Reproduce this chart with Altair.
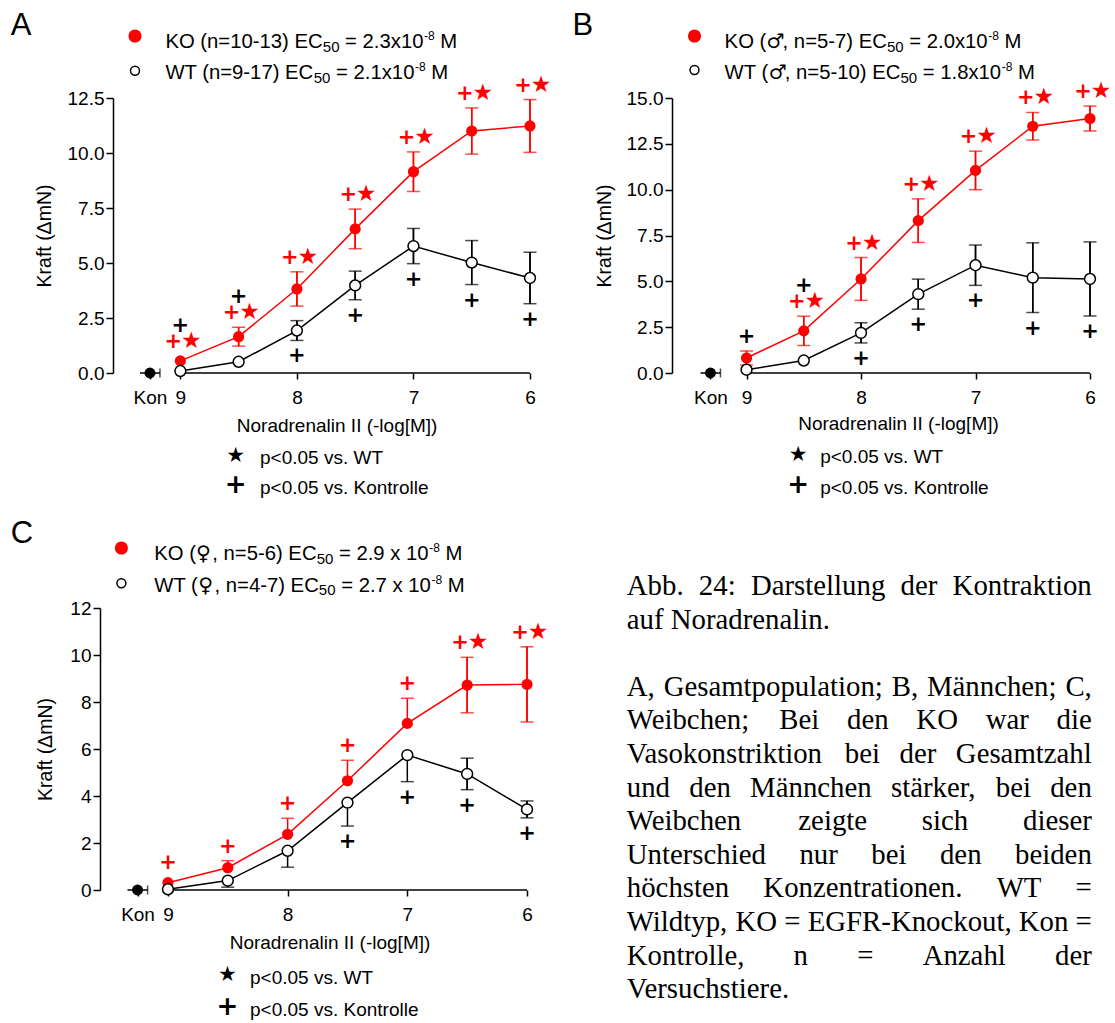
import altair as alt
import pandas as pd

# ---------------- data ----------------
CONC = [9, 8.5, 8, 7.5, 7, 6.5, 6]          # -log[M]
X_TICKS = [9, 8, 7, 6]
KON_Y = 0.0

# Panel A - Gesamtpopulation
A_KO = [0.55, 1.65, 3.82, 6.55, 9.15, 11.00, 11.23]
A_KO_SEM = [0.22, 0.43, 0.78, 0.90, 0.90, 1.05, 1.20]
A_WT = [0.09, 0.51, 1.93, 3.98, 5.77, 5.02, 4.32]
A_WT_SEM = [0.10, 0.12, 0.45, 0.65, 0.80, 1.00, 1.17]
A_KO_BARS = ["both"] * 7
A_WT_BARS = ["both"] * 7
A_KO_MARK = ["+★"] * 7
A_WT_MARK_TOP = ["+", "+", "", "", "", "", ""]
A_WT_MARK_BOT = ["", "", "+", "+", "+", "+", "+"]
A_LEGEND = ["KO (n=10-13) EC₅₀ = 2.3x10⁻⁸ M", "WT (n=9-17) EC₅₀ = 2.1x10⁻⁸ M"]

# Panel B - Maennchen
B_KO = [0.82, 2.30, 5.13, 8.31, 11.05, 13.46, 13.88]
B_KO_SEM = [0.38, 0.80, 1.17, 1.19, 1.05, 0.75, 0.68]
B_WT = [0.18, 0.68, 2.19, 4.30, 5.88, 5.20, 5.13]
B_WT_SEM = [0.10, 0.12, 0.55, 0.82, 1.10, 1.90, 2.02]
B_KO_BARS = ["both"] * 7
B_WT_BARS = ["both"] * 7
B_KO_MARK = ["", "+★", "+★", "+★", "+★", "+★", "+★"]
B_WT_MARK_TOP = ["+", "+", "", "", "", "", ""]
B_WT_MARK_BOT = ["", "", "+", "+", "+", "+", "+"]
B_LEGEND = ["KO (♂, n=5-7) EC₅₀ = 2.0x10⁻⁸ M", "WT (♂, n=5-10) EC₅₀ = 1.8x10⁻⁸ M"]

# Panel C - Weibchen
C_KO = [0.31, 0.95, 2.37, 4.65, 7.09, 8.72, 8.75]
C_KO_SEM = [0.25, 0.30, 0.68, 0.87, 1.07, 1.18, 1.60]
C_WT = [0.03, 0.40, 1.67, 3.72, 5.74, 4.94, 3.43]
C_WT_SEM = [0.10, 0.28, 0.70, 1.00, 1.13, 0.67, 0.36]
C_KO_BARS = ["up"] * 5 + ["both", "both"]
C_WT_BARS = ["down"] * 5 + ["both", "both"]
C_KO_MARK = ["+", "+", "+", "+", "+", "+★", "+★"]
C_WT_MARK_TOP = [""] * 7
C_WT_MARK_BOT = ["", "", "", "+", "+", "+", "+"]
C_LEGEND = ["KO (♀, n=5-6) EC₅₀ = 2.9 x 10⁻⁸ M", "WT (♀, n=4-7) EC₅₀ = 2.7 x 10⁻⁸ M"]

FOOTNOTES = ["p<0.05 vs. WT", "p<0.05 vs. Kontrolle"]
X_TITLE = "Noradrenalin II (-log[M])"
Y_TITLE = "Kraft (ΔmN)"
KON_LABEL = "Kon"

CAPTION = [
    ("Abb. 24: Darstellung der Kontraktion", True),
    ("auf Noradrenalin.", False),
    ("", False),
    ("A, Gesamtpopulation; B, Männchen; C,", True),
    ("Weibchen; Bei den KO war die", True),
    ("Vasokonstriktion bei der Gesamtzahl", True),
    ("und den Männchen stärker, bei den", True),
    ("Weibchen zeigte sich dieser", True),
    ("Unterschied nur bei den beiden", True),
    ("höchsten Konzentrationen. WT =", True),
    ("Wildtyp, KO = EGFR-Knockout, Kon =", True),
    ("Kontrolle, n = Anzahl der", True),
    ("Versuchstiere.", False),
]

# ---------------- style ----------------
RED = "#ff0000"
BLACK = "#000000"
SANS = "Liberation Sans"
SERIF = "Liberation Serif"
SYM = "DejaVu Sans"
FS = 19          # axis labels / titles / footnotes
LEG_FS = 20.3    # legend text

G_A = dict(w=417, h=275, ymax=12.5, ystep=2.5, fmt=".1f", xleft=9.578, kon=9.261, whisk=0.086,
           yoff=0, xtitle=(223.6, 52), ytitle_x=-68.4, letter=(-102.3, -63), letter_txt="A",
           dots=[(22, -62), (22, -27.3)], legx=52.4, legy=[-49.7, -19],
           fsym_x=122.7, fsym_y=[358, 387], ftxt_x=147, ftxt_y=[360.3, 390.3], anchor=True)
G_B = dict(w=418, h=275, ymax=15, ystep=2.5, fmt=".1f", xleft=9.651, kon=9.315, whisk=0.087,
           yoff=0, xtitle=(226, 50), ytitle_x=-67.8, letter=(-99.6, -63), letter_txt="B",
           dots=[(22.5, -62), (22.5, -28)], legx=52.6, legy=[-49.7, -19],
           fsym_x=126.2, fsym_y=[357, 387], ftxt_x=148.2, ftxt_y=[359.3, 390.3], anchor=False)
G_C = dict(w=414, h=282, ymax=12, ystep=2, fmt="d", xleft=9.459, kon=9.254, whisk=0.084,
           yoff=13, xtitle=(216.5, 52.5), ytitle_x=-54.6, letter=(-102.3, -65), letter_txt="C",
           dots=[(8.4, -60), (8.4, -24.7)], legx=41.3, legy=[-48, -16.3],
           fsym_x=114.5, fsym_y=[367, 399], ftxt_x=137, ftxt_y=[370.3, 402], anchor=False)

NO_VIEW = alt.ViewBackground(stroke="transparent", strokeWidth=0)

# Arial / Liberation Sans advance widths (1/1000 em)
AW = {' ': 278, '(': 333, ')': 333, ',': 278, '-': 333, '.': 278, '=': 584, '<': 584,
      'x': 500, 'K': 667, 'O': 778, 'E': 667, 'C': 722, 'M': 833, 'W': 944, 'T': 611,
      'n': 556, 'p': 556, 'v': 500, 's': 500}
SUBS = {'₀': '0', '₁': '1', '₂': '2', '₃': '3', '₄': '4', '₅': '5', '₆': '6', '₇': '7', '₈': '8', '₉': '9'}
SUPS = {'⁻': '-', '⁰': '0', '¹': '1', '²': '2', '³': '3', '⁴': '4', '⁵': '5', '⁶': '6', '⁷': '7', '⁸': '8', '⁹': '9'}
SYMS = {'♂', '♀'}


def aw(s, size):
    return sum(AW.get(ch, 556) for ch in s) / 1000.0 * size


def txt(s, x, y, size, color=BLACK, font=SANS, weight="normal", align="left", baseline="middle"):
    return alt.Chart(pd.DataFrame({"t": [s]})).mark_text(
        align=align, baseline=baseline, font=font, fontSize=size, fontWeight=weight, color=color
    ).encode(x=alt.value(x), y=alt.value(y), text="t:N")


def rich(s, x, y):
    """legend line with real sub/superscripts; y is the baseline"""
    pieces = []
    for ch in s:
        if ch in SUBS:
            kind, c = "sub", SUBS[ch]
        elif ch in SUPS:
            kind, c = "sup", SUPS[ch]
        elif ch in SYMS:
            kind, c = "sym", ch
        else:
            kind, c = "n", ch
        if pieces and pieces[-1][0] == kind and kind != "sym":
            pieces[-1][1] += c
        else:
            pieces.append([kind, c])
    out = []
    cx = x
    for kind, c in pieces:
        if kind == "n":
            lead = len(c) - len(c.lstrip(" "))
            cx += aw(" " * lead, LEG_FS)
            body = c.lstrip(" ")
            out.append(txt(body, cx, y, LEG_FS, baseline="alphabetic"))
            cx += aw(body, LEG_FS)
        elif kind == "sub":
            out.append(txt(c, cx, y + 3.5, 15, baseline="alphabetic"))
            cx += aw(c, 15)
        elif kind == "sup":
            out.append(txt(c, cx + 0.5, y - 8, 12, baseline="alphabetic"))
            cx += aw(c, 12) + 0.5
        else:
            out.append(txt(c, cx, y, LEG_FS, font=SYM, baseline="alphabetic"))
            cx += 0.8 * LEG_FS
    return out


def sym(x, y, size, fill, stroke):
    return alt.Chart(pd.DataFrame({"a": [0]})).mark_point(
        shape="circle", filled=True, fill=fill, stroke=stroke, strokeWidth=1.5, size=size, opacity=1
    ).encode(x=alt.value(x), y=alt.value(y))


def panel(ko, ko_sem, wt, wt_sem, ko_bars, wt_bars, ko_mark, wt_top, wt_bot, legend, g):
    pxu = g["h"] / g["ymax"]
    rows = []
    caps = []
    for i, c in enumerate(CONC):
        rows.append(dict(c=c, ko=ko[i], wt=wt[i],
                         ko_top=ko[i] + ko_sem[i], wt_bot=wt[i] - wt_sem[i],
                         rplus_pair="+" if ("+" in ko_mark[i] and "★" in ko_mark[i]) else "",
                         rplus_solo="+" if ("+" in ko_mark[i] and "★" not in ko_mark[i]) else "",
                         rstar="★" if "★" in ko_mark[i] else "",
                         blk1=wt_top[i] if ko_mark[i] == "" else "",
                         blk2=wt_top[i] if ko_mark[i] != "" else "",
                         blkb=wt_bot[i]))
        for name, m, s, d in (("KO", ko[i], ko_sem[i], ko_bars[i]), ("WT", wt[i], wt_sem[i], wt_bars[i])):
            if s * pxu < 6:
                continue
            lo = m - s if d in ("both", "down") else m
            hi = m + s if d in ("both", "up") else m
            if d in ("both", "up"):
                caps.append(dict(c=c, s=name, lo=lo, hi=hi, cap=hi))
            if d in ("both", "down"):
                caps.append(dict(c=c, s=name, lo=lo, hi=hi, cap=lo))
    df = pd.DataFrame(rows)
    bars = pd.DataFrame(caps)

    ticks_y = []
    v = 0.0
    while v <= g["ymax"] + 1e-9:
        ticks_y.append(round(v, 2))
        v += g["ystep"]

    xs = alt.Scale(domain=[6, g["xleft"]], reverse=True, nice=False, zero=False)
    ys = alt.Scale(domain=[0, g["ymax"]], nice=False, zero=True)
    xaxis = alt.Axis(values=[g["kon"]] + X_TICKS,
                     labelExpr=f"datum.value > 9.05 ? '{KON_LABEL}' : format(datum.value, 'd')",
                     domain=False, grid=False, ticks=True, tickSize=6, tickWidth=1.5, tickColor=BLACK,
                     labelFont=SANS, labelFontSize=FS, labelColor=BLACK, labelPadding=9,
                     labelFlush=False, labelOverlap=False,
                     title=X_TITLE, titleFont=SANS, titleFontSize=FS, titleFontWeight="normal",
                     titleColor=BLACK, titleX=g["xtitle"][0], titleY=g["xtitle"][1],
                     titleBaseline="middle", titleAlign="center")
    yaxis = alt.Axis(values=ticks_y, format=g["fmt"], domain=True, domainColor=BLACK, domainWidth=1.5,
                     grid=False, tickSize=7, tickWidth=1.5, tickColor=BLACK,
                     labelFont=SANS, labelFontSize=FS, labelColor=BLACK, labelPadding=2,
                     offset=g["yoff"],
                     title=Y_TITLE, titleFont=SANS, titleFontSize=19.5, titleFontWeight="normal",
                     titleColor=BLACK, titleX=g["ytitle_x"], titleBaseline="middle", titleAlign="center")

    def X(f):
        return alt.X(f, type="quantitative", scale=xs, axis=xaxis)

    def Y(f):
        return alt.Y(f, type="quantitative", scale=ys, axis=yaxis)

    layers = []
    if g["anchor"]:
        layers.append(alt.Chart(pd.DataFrame({"a": [0]})).mark_rule(color="white", strokeWidth=1).encode(
            x=alt.value(-112.5), x2=alt.value(-112.5), y=alt.value(-97.5), y2=alt.value(-97.5)))

    base_df = pd.DataFrame({"x": [max(CONC)], "x2": [min(CONC)], "y": [KON_Y]})
    layers.append(alt.Chart(base_df).mark_rule(color=BLACK, strokeWidth=1.5).encode(
        x=X("x"), x2="x2", y=Y("y")))

    kon_df = pd.DataFrame({"x": [g["kon"]], "y": [KON_Y],
                           "xl": [g["kon"] + g["whisk"]], "xr": [g["kon"] - g["whisk"]]})
    layers.append(alt.Chart(kon_df).mark_rule(color=BLACK, strokeWidth=1.5).encode(
        x=X("xl"), x2="xr", y=Y("y")))
    layers.append(alt.Chart(kon_df).mark_tick(color=BLACK, orient="vertical", size=9, thickness=1.5).encode(
        x=X("xr"), y=Y("y")))

    base = alt.Chart(df)
    layers.append(base.mark_line(color=RED, strokeWidth=1.5).encode(x=X("c"), y=Y("ko")))
    layers.append(base.mark_line(color=BLACK, strokeWidth=1.5).encode(x=X("c"), y=Y("wt")))

    for name, col in (("KO", RED), ("WT", BLACK)):
        bsub = alt.Chart(bars).transform_filter(alt.datum.s == name)
        layers.append(bsub.mark_rule(color=col, strokeWidth=1.5).encode(x=X("c"), y=Y("lo"), y2="hi"))
        layers.append(bsub.mark_tick(color=col, orient="horizontal", size=13, thickness=1.5).encode(
            x=X("c"), y=Y("cap")))

    layers.append(alt.Chart(kon_df).mark_point(shape="circle", filled=True, color=BLACK, size=120, opacity=1).encode(
        x=X("x"), y=Y("y")))
    layers.append(base.mark_point(shape="circle", filled=True, color=RED, size=125, opacity=1).encode(
        x=X("c"), y=Y("ko")))
    layers.append(base.mark_point(shape="circle", filled=True, fill="white", stroke=BLACK, strokeWidth=1.5,
                                  size=118, opacity=1).encode(x=X("c"), y=Y("wt")))

    plus = dict(font=SYM, fontSize=21, fontWeight="bold", baseline="middle", align="center")
    star = dict(font=SYM, fontSize=23, fontWeight="normal", baseline="middle", align="center")
    layers.append(base.transform_filter(alt.datum.rplus_pair != "").mark_text(color=RED, dy=-14, dx=-7, **plus).encode(
        x=X("c"), y=Y("ko_top"), text="rplus_pair:N"))
    layers.append(base.transform_filter(alt.datum.rplus_solo != "").mark_text(color=RED, dy=-14, **plus).encode(
        x=X("c"), y=Y("ko_top"), text="rplus_solo:N"))
    layers.append(base.transform_filter(alt.datum.rstar != "").mark_text(color=RED, dy=-15, dx=11, **star).encode(
        x=X("c"), y=Y("ko_top"), text="rstar:N"))
    layers.append(base.transform_filter(alt.datum.blk1 != "").mark_text(color=BLACK, dy=-14, **plus).encode(
        x=X("c"), y=Y("ko_top"), text="blk1:N"))
    layers.append(base.transform_filter(alt.datum.blk2 != "").mark_text(color=BLACK, dy=-30, **plus).encode(
        x=X("c"), y=Y("ko_top"), text="blk2:N"))
    layers.append(base.transform_filter(alt.datum.blkb != "").mark_text(color=BLACK, dy=16, **plus).encode(
        x=X("c"), y=Y("wt_bot"), text="blkb:N"))

    # panel letter, legend, footnotes
    layers.append(txt(g["letter_txt"], g["letter"][0], g["letter"][1], 31, baseline="alphabetic"))
    layers.append(sym(g["dots"][0][0], g["dots"][0][1], 135, RED, RED))
    layers.append(sym(g["dots"][1][0], g["dots"][1][1], 80, "white", BLACK))
    layers.extend(rich(legend[0], g["legx"], g["legy"][0]))
    layers.extend(rich(legend[1], g["legx"], g["legy"][1]))
    layers.append(txt("★", g["fsym_x"], g["fsym_y"][0], 21, font=SYM, align="center"))
    layers.append(txt("+", g["fsym_x"], g["fsym_y"][1], 26, font=SYM, weight="bold", align="center"))
    layers.append(txt(FOOTNOTES[0], g["ftxt_x"], g["ftxt_y"][0], FS))
    layers.append(txt(FOOTNOTES[1], g["ftxt_x"], g["ftxt_y"][1], FS))

    return alt.layer(*layers).properties(width=g["w"], height=g["h"], view=NO_VIEW)


pA = panel(A_KO, A_KO_SEM, A_WT, A_WT_SEM, A_KO_BARS, A_WT_BARS, A_KO_MARK, A_WT_MARK_TOP, A_WT_MARK_BOT, A_LEGEND, G_A)
pB = panel(B_KO, B_KO_SEM, B_WT, B_WT_SEM, B_KO_BARS, B_WT_BARS, B_KO_MARK, B_WT_MARK_TOP, B_WT_MARK_BOT, B_LEGEND, G_B)
pC = panel(C_KO, C_KO_SEM, C_WT, C_WT_SEM, C_KO_BARS, C_WT_BARS, C_KO_MARK, C_WT_MARK_TOP, C_WT_MARK_BOT, C_LEGEND, G_C)

# ---------------- caption (justified with Times metrics) ----------------
TW = {' ': 250, '.': 250, ',': 250, ':': 278, ';': 278, '=': 564, '-': 333,
      'A': 722, 'B': 667, 'C': 667, 'D': 722, 'E': 611, 'F': 556, 'G': 722, 'H': 722, 'I': 333,
      'J': 389, 'K': 722, 'L': 611, 'M': 889, 'N': 722, 'O': 722, 'P': 556, 'Q': 722, 'R': 667,
      'S': 556, 'T': 611, 'U': 722, 'V': 722, 'W': 944, 'X': 722, 'Y': 722, 'Z': 611,
      'a': 444, 'b': 500, 'c': 444, 'd': 500, 'e': 444, 'f': 333, 'g': 500, 'h': 500, 'i': 278,
      'j': 278, 'k': 500, 'l': 278, 'm': 778, 'n': 500, 'o': 500, 'p': 500, 'q': 500, 'r': 333,
      's': 389, 't': 278, 'u': 500, 'v': 500, 'w': 722, 'x': 500, 'y': 500, 'z': 444,
      'ä': 444, 'ö': 500, 'ü': 500}
CAP_FS = 28.8
CAP_X0 = -45.2
CAP_W = 465
CAP_Y0 = -13
CAP_LH = 33.6


def tw(s):
    return sum(TW.get(ch, 500) for ch in s) / 1000.0 * CAP_FS


words = []
for i, (line, just) in enumerate(CAPTION):
    if not line:
        continue
    ws = line.split(" ")
    wd = [tw(w) for w in ws]
    gap = (CAP_W - sum(wd)) / (len(ws) - 1) if (just and len(ws) > 1) else tw(" ")
    x = CAP_X0
    for w, d in zip(ws, wd):
        words.append(dict(w=w, x=x, y=CAP_Y0 + i * CAP_LH))
        x += d + gap
wdf = pd.DataFrame(words)
pT = alt.Chart(wdf).mark_text(align="left", baseline="alphabetic", font=SERIF, fontSize=CAP_FS,
                              color=BLACK).encode(
    x=alt.X("x:Q", scale=None, axis=None), y=alt.Y("y:Q", scale=None, axis=None), text="w:N"
).properties(width=418, height=282, view=NO_VIEW)

chart = alt.concat(pA, pB, pC, pT, columns=2, spacing={"row": 235, "column": 142}, bounds="flush").properties(
    padding=0, background="white"
).configure_view(stroke="transparent", strokeWidth=0)

chart.save("out.html", embed_options={"renderer": "svg", "actions": False})
